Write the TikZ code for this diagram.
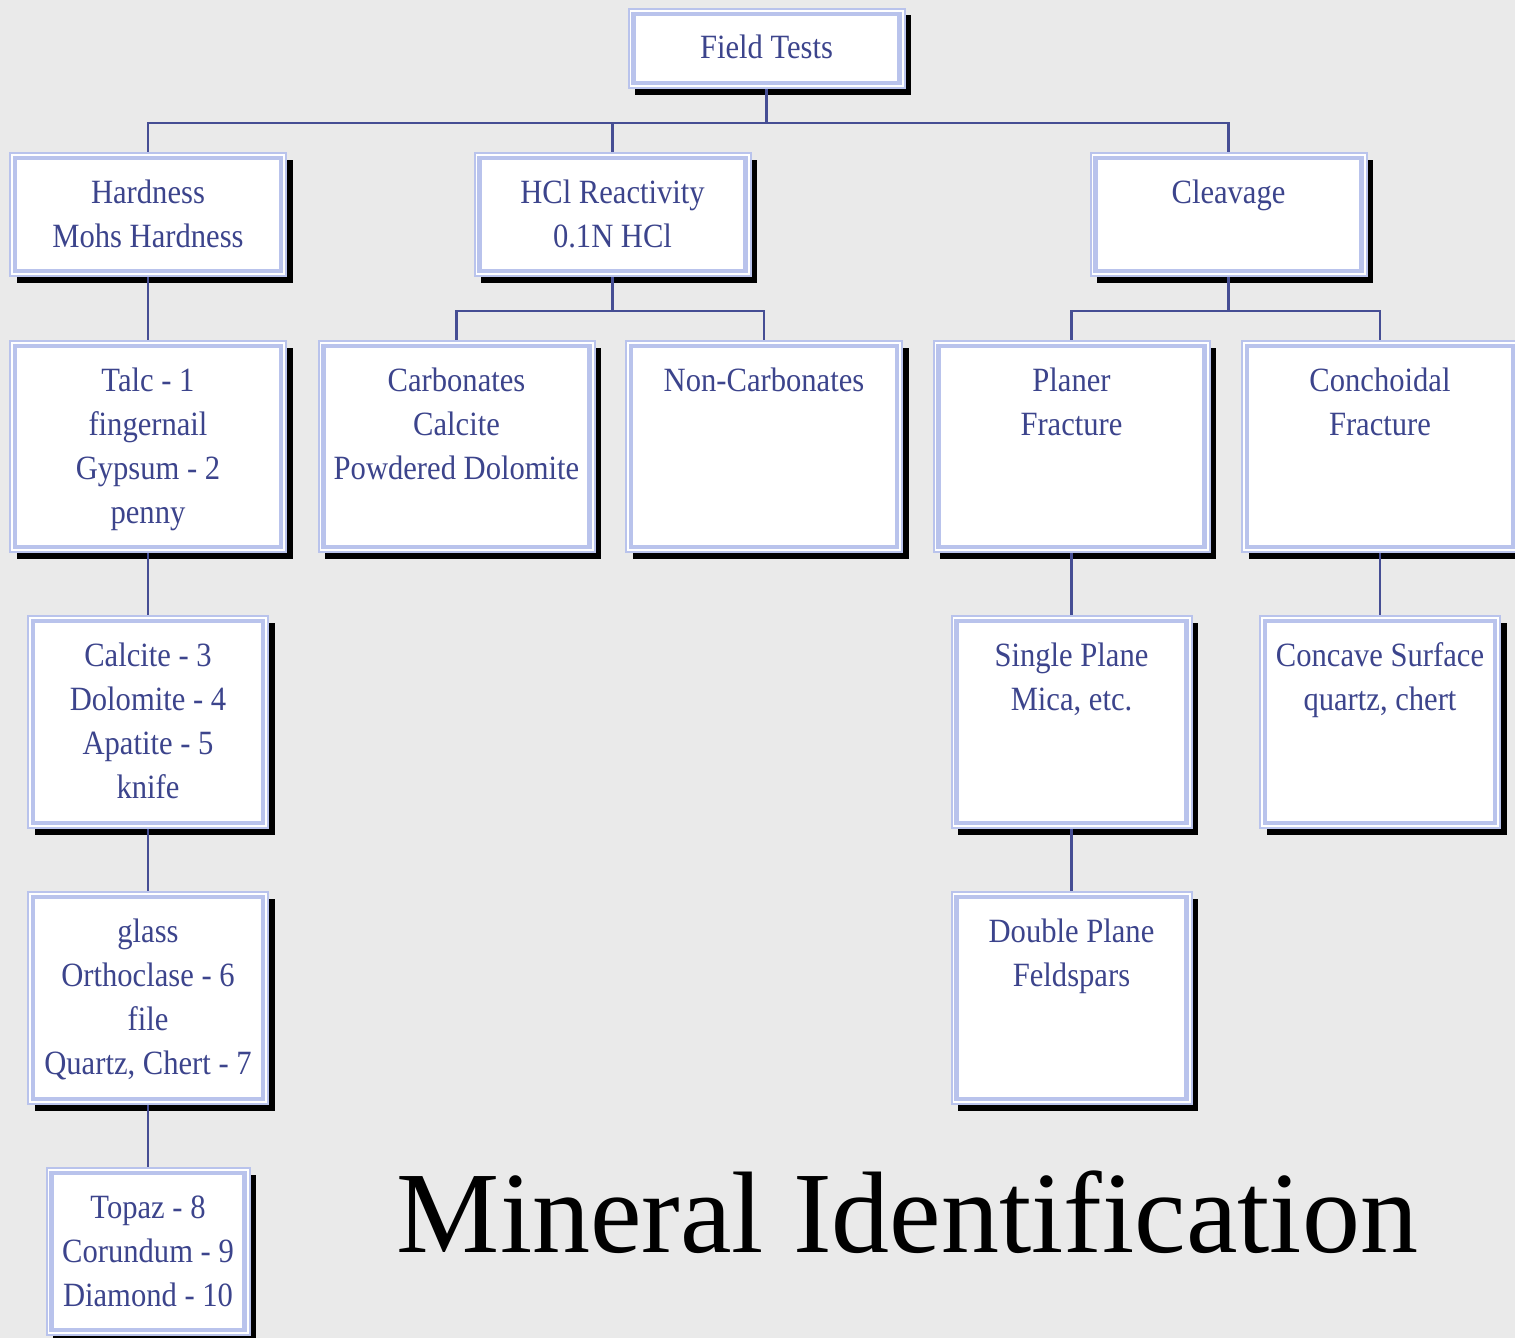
\documentclass[tikz,border=0pt]{standalone}
\usepackage{fontspec}
\setmainfont{Liberation Serif}
\newfontfamily\boxfont{Liberation Serif}[FakeStretch=0.9]
\usepackage{tikz}
\usetikzlibrary{shadows}

\definecolor{bgc}{HTML}{EAEAEA}
\definecolor{txtc}{HTML}{3C448C}
\definecolor{linec}{HTML}{464E94}
\definecolor{rimc}{HTML}{B9C3EC}

\newcommand{\boxlines}[1]{\begin{tabular}[t]{@{}c@{}}#1\end{tabular}}

\tikzset{
  mbox/.style={draw=rimc, line width=2pt, fill=white, inner sep=0pt, text=txtc,
    font=\boxfont\fontsize{34}{44}\selectfont, text height=50pt,
    drop shadow={shadow xshift=6.5pt, shadow yshift=-6.5pt, fill=black, opacity=1}},
  frame/.style={draw=rimc, line width=4.5pt},
  link/.style={draw=linec, line width=2.2pt},
}

\begin{document}
\begin{tikzpicture}[x=1pt, y=-1pt]
            \useasboundingbox (0,0) rectangle (1515,1338);
            \fill[bgc] (0,0) rectangle (1515,1338);

            % top
            \node[mbox, minimum width=276pt, text depth=29pt] (ft) at (766.5,48.5) {Field Tests};

            % second row
            \node[mbox, minimum width=276pt, text depth=73pt] (hard) at (148,214.5) {\boxlines{Hardness\\Mohs Hardness}};
            \node[mbox, minimum width=276pt, text depth=73pt] (hcl) at (612.5,214.5) {\boxlines{HCl Reactivity\\0.1N HCl}};
            \node[mbox, minimum width=276pt, text depth=73pt] (clv) at (1228.5,214.5) {Cleavage};

            % third row
            \node[mbox, minimum width=276pt, text depth=161pt] (talc) at (148,446.5) {\boxlines{Talc - 1\\fingernail\\Gypsum - 2\\penny}};
            \node[mbox, minimum width=276pt, text depth=161pt] (carb) at (456.5,446.5) {\boxlines{Carbonates\\Calcite\\Powdered Dolomite}};
            \node[mbox, minimum width=276pt, text depth=161pt] (noncarb) at (764,446.5) {Non-Carbonates};
            \node[mbox, minimum width=276pt, text depth=161pt] (plan) at (1071.5,446.5) {\boxlines{Planer\\Fracture}};
            \node[mbox, minimum width=276pt, text depth=161pt] (conch) at (1380,446.5) {\boxlines{Conchoidal\\Fracture}};

            % lower rows
            \node[mbox, minimum width=240pt, text depth=162pt] (calc) at (148,722) {\boxlines{Calcite - 3\\Dolomite - 4\\Apatite - 5\\knife}};
            \node[mbox, minimum width=240pt, text depth=162pt] (single) at (1071.5,722) {\boxlines{Single Plane\\Mica, etc.}};
            \node[mbox, minimum width=240pt, text depth=162pt] (concave) at (1380,722) {\boxlines{Concave Surface\\quartz, chert}};
            \node[mbox, minimum width=240pt, text depth=162pt] (glass) at (148,998) {\boxlines{glass\\Orthoclase - 6\\file\\Quartz, Chert - 7}};
            \node[mbox, minimum width=240pt, text depth=162pt] (dbl) at (1071.5,998) {\boxlines{Double Plane\\Feldspars}};
            \node[mbox, minimum width=203pt, text depth=117pt] (topaz) at (148,1251.5) {\boxlines{Topaz - 8\\Corundum - 9\\Diamond - 10}};

            \foreach \n in {ft,hard,hcl,clv,talc,carb,noncarb,plan,conch,calc,single,concave,glass,dbl,topaz}
              \draw[frame] ([xshift=6pt,yshift=-6pt]\n.north west) rectangle ([xshift=-6pt,yshift=6pt]\n.south east);

            % connectors
            \foreach \c in {hard,hcl,clv}
              \draw[link] (ft.south) -- ++(0,34) -| (\c.north);
            \foreach \c in {carb,noncarb}
              \draw[link] (hcl.south) -- ++(0,34) -| (\c.north);
            \foreach \c in {plan,conch}
              \draw[link] (clv.south) -- ++(0,34) -| (\c.north);
            \draw[link] (hard.south) -- (talc.north);
            \draw[link] (talc.south) -- (calc.north);
            \draw[link] (calc.south) -- (glass.north);
            \draw[link] (glass.south) -- (topaz.north);
            \draw[link] (plan.south) -- (single.north);
            \draw[link] (single.south) -- (dbl.north);
            \draw[link] (conch.south) -- (concave.north);

            \node[font=\fontsize{116}{120}\selectfont, anchor=base] (title) at (907.5,1252) {Mineral Identification};
        \end{tikzpicture}
\end{document}
